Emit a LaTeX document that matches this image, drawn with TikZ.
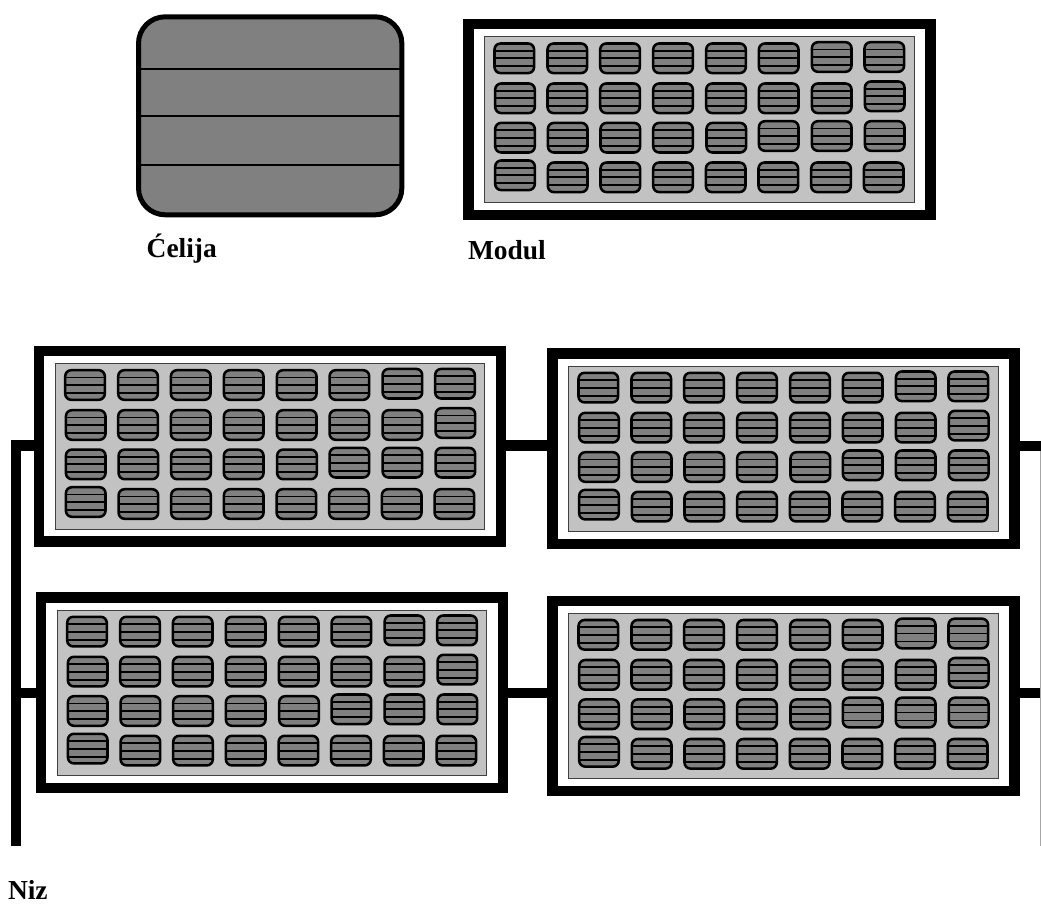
\documentclass[tikz,border=0pt]{standalone}
\usepackage{fontspec}
\setmainfont{Liberation Serif}
\newcommand{\pxu}{0.75pt}
\definecolor{panelgrey}{HTML}{C2C2C2}
\definecolor{cellgrey}{HTML}{808080}
% one module's cells: x/y offsets from the outer corner of the frame, in pixels
\newcommand{\modulecells}{%
  \fill[panel] (21,17.7) rectangle (450.7,183.3);
  \draw[panelline] (21,17.7) rectangle (450.7,183.3);
  \foreach \cx/\cy in {
    30/23.3,83/23.3,135.7/23.3,188.7/23.3,241.7/23.3,294.4/23.3,347.4/22,400/22,
    30.7/63.3,83/63.3,135.7/63.3,188.7/63.3,241.7/63.3,294.4/63.3,347.4/63.3,400.4/61.3,
    30.7/102.7,83.4/102.7,136/102.7,188.7/102.7,242/102.7,294.4/101,347.4/101,400.4/101,
    30.7/140.3,83.4/142.3,136/142.3,188.7/142.3,241.4/142.3,294/142.3,346.7/142.3,399.4/142.3}{
    \draw[smallcell] (\cx+1.2,\cy+1.2) rectangle (\cx+40.8,\cy+30.8);
    \draw[smallline] (\cx+1.2,\cy+8.5) -- (\cx+40.8,\cy+8.5);
    \draw[smallline] (\cx+1.2,\cy+16) -- (\cx+40.8,\cy+16);
    \draw[smallline] (\cx+1.2,\cy+24) -- (\cx+40.8,\cy+24);
  }%
}
\tikzset{
  x=\pxu, y=-\pxu,
  frame/.style={draw=black, line width=7.7pt, fill=white, rectangle, inner sep=0pt, outer sep=0pt,
    minimum width=346.6pt, minimum height=143pt, anchor=north west},
  panel/.style={fill=panelgrey},
  panelline/.style={draw=black!75!white, line width=0.6pt},
  smallcell/.style={draw=black, fill=cellgrey, line width=1.9pt, rounded corners=4.5pt},
  smallline/.style={draw=black, line width=1.4pt},
  bigcell/.style={draw=black, fill=cellgrey, line width=3.75pt, rounded corners=20pt, rectangle,
    inner sep=0pt, outer sep=0pt, minimum width=197.5pt, minimum height=148.5pt, anchor=north west},
  bigline/.style={draw=black, line width=1.5pt},
  wire/.style={draw=black, line width=7.8pt},
  thinbus/.style={draw=black!35!white, line width=0.75pt},
  caption/.style={font=\bfseries\fontsize{20.6pt}{24pt}\selectfont, anchor=base west, inner sep=0pt, outer sep=0pt}
}
\begin{document}
\begin{tikzpicture}
\useasboundingbox (0,0) rectangle (1041,905);
\fill[white] (0,0) rectangle (1041,905);
% big cell
\node[bigcell] (cell) at (138.5,16.8) {};
\draw[bigline] (cell.west |- 0,69) -- (cell.east |- 0,69);
\draw[bigline] (cell.west |- 0,116) -- (cell.east |- 0,116);
\draw[bigline] (cell.west |- 0,165) -- (cell.east |- 0,165);
\node[caption] (lcell) at (146.7,257.5) {Ćelija};
% named levels of the wires
\coordinate (upperleft) at (16,445.3);
\coordinate (lowerleft) at (16,692.8);
\coordinate (busend) at (16,846);
\coordinate (upperright) at (1041,445.8);
\coordinate (lowerright) at (1041,692.8);
\coordinate (thintop) at (1040.6,451);
\coordinate (thinend) at (1040.6,846);
% wires
\draw[wire] (upperleft |- 0,440) -- (busend);
\draw[wire] (10.7,445.3) -- (upperleft -| 40,0);
\draw[wire] (10.7,692.8) -- (42,692.8);
% modules
\node[frame] (modtop) at (468.45,24.15) {};
\begin{scope}[shift={(463.3,19)}]\modulecells\end{scope}
\node[caption] (lmod) at (468,260) {Modul};
\node[frame] (moda) at (39.15,350.85) {};
\begin{scope}[shift={(34,345.7)}]\modulecells\end{scope}
\node[frame] (modb) at (552.45,353.45) {};
\begin{scope}[shift={(547.3,348.3)}]\modulecells\end{scope}
\node[frame] (modc) at (41.15,597.45) {};
\begin{scope}[shift={(36,592.3)}]\modulecells\end{scope}
\node[frame] (modd) at (552.45,600.65) {};
\begin{scope}[shift={(547.3,595.5)}]\modulecells\end{scope}
% connectors between modules
\draw[wire] (moda.east |- upperleft) -- (modb.west |- upperleft);
\draw[wire] (modc.east |- lowerleft) -- (modd.west |- lowerleft);
\draw[wire] (modb.east |- upperright) -- (upperright);
\draw[wire] (modd.east |- lowerright) -- (lowerright);
\draw[thinbus] (thintop) -- (thinend);
\node[caption] (lniz) at (8,899.5) {Niz};
\end{tikzpicture}
\end{document}
